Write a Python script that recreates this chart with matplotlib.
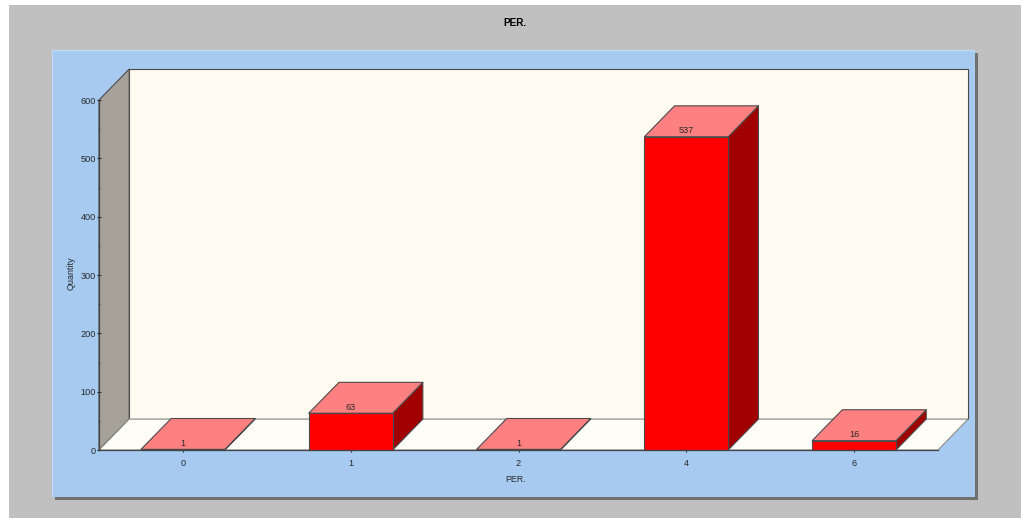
import matplotlib
matplotlib.use("Agg")
import matplotlib.pyplot as plt
from matplotlib.patches import Polygon, Rectangle

plt.rcParams['font.family'] = ['Liberation Sans', 'DejaVu Sans']

# Chart values
categories = ["0", "1", "2", "4", "6"]
quantities = [1, 63, 1, 537, 16]
y_major = [0, 100, 200, 300, 400, 500, 600]
y_minor = [50, 150, 250, 350, 450, 550]

# Colours
FRAME = "#C0C0C0"
PANEL = "#A6CAF0"
WALL_BACK = "#FFFBF0"
WALL_SIDE = "#A6A299"
FLOOR = "#FFFDF8"
BAR_FRONT = "#FF0000"
BAR_TOP = "#FF8080"
BAR_SIDE = "#A00000"
EDGE = "#4A4A4A"
TEXT = "#2A2A2A"

W, H = 1021, 518
DEPTH_X = 0.18    # extrusion in category units
DEPTH_Y = 53      # extrusion in quantity units
BAR_W = 0.5

fig = plt.figure(figsize=(W / 100, H / 100), dpi=100, facecolor="white")


def fig_rect(x0, y0, x1, y1, color, z):
    # rectangle given in pixels from the top left corner
    fig.add_artist(Rectangle((x0 / W, 1 - y1 / H), (x1 - x0) / W, (y1 - y0) / H,
                             transform=fig.transFigure, facecolor=color,
                             edgecolor="none", zorder=z))


# Window frame and blue panel with its drop shadow
fig_rect(9, 5, W, H, FRAME, -5)
fig_rect(55, 53, 978, 500, "#707070", -4)
fig_rect(52, 50, 975, 497, PANEL, -3)
fig_rect(52, 50, 975, 51, "#C4DCF5", -2)
fig_rect(52, 50, 53, 497, "#C4DCF5", -2)

fig.text(514.5 / W, 1 - 23 / H, "PER.", ha="center", va="center", fontsize=7.2,
         fontweight="bold", color="#000000")

ax = fig.add_axes([99 / W, 1 - 450 / H, 839 / W, 350 / H])
ax.patch.set_visible(False)
ax.set_xlim(0, len(categories))
ax.set_ylim(0, 600)


def poly(points, face, edge=EDGE, lw=0.8, z=2):
    ax.add_patch(Polygon(points, closed=True, facecolor=face, edgecolor=edge,
                         linewidth=lw, clip_on=False, zorder=z, joinstyle="round"))


# Walls and floor of the 3D box
n = len(categories)
poly([(DEPTH_X, DEPTH_Y), (n + DEPTH_X, DEPTH_Y), (n + DEPTH_X, 600 + DEPTH_Y),
      (DEPTH_X, 600 + DEPTH_Y)], WALL_BACK, z=1)
poly([(0, 0), (DEPTH_X, DEPTH_Y), (DEPTH_X, 600 + DEPTH_Y), (0, 600)], WALL_SIDE, z=1)
poly([(0, 0), (n, 0), (n + DEPTH_X, DEPTH_Y), (DEPTH_X, DEPTH_Y)], FLOOR,
     edge="#8A8A8A", z=1.5)

# Extruded bars
for i, value in enumerate(quantities):
    left = i + 0.5 - BAR_W / 2
    right = left + BAR_W
    poly([(right, 0), (right + DEPTH_X, DEPTH_Y), (right + DEPTH_X, value + DEPTH_Y),
          (right, value)], BAR_SIDE, z=3)
    poly([(left, value), (right, value), (right + DEPTH_X, value + DEPTH_Y),
          (left + DEPTH_X, value + DEPTH_Y)], BAR_TOP, z=3)
    poly([(left, 0), (right, 0), (right, value), (left, value)], BAR_FRONT, z=4)
    ax.annotate(str(value), (i + 0.5, value), xytext=(0, 1.2), textcoords="offset points",
                ha="center", va="bottom", fontsize=6.6, color=TEXT, zorder=5,
                annotation_clip=False)

# Axes, ticks and labels
for side in ("top", "right"):
    ax.spines[side].set_visible(False)
for side in ("left", "bottom"):
    ax.spines[side].set_linewidth(0.9)
    ax.spines[side].set_color("#444444")
    ax.spines[side].set_zorder(6)

ax.set_yticks(y_major)
ax.set_yticks(y_minor, minor=True)
ax.set_xticks([i + 0.5 for i in range(n)])
ax.set_xticklabels(categories)
ax.tick_params(axis="both", which="major", direction="inout", length=3.2, width=0.8,
               labelsize=6.6, colors="#222222", labelcolor=TEXT, pad=0.6, zorder=7)
ax.tick_params(axis="y", which="minor", direction="inout", length=1.8, width=0.7,
               colors="#444444")
ax.tick_params(axis="x", pad=5)

fig.text(71 / W, 1 - 273.5 / H, "Quantity", rotation=90, ha="center", va="center",
         fontsize=6.5, color=TEXT)
fig.text(516 / W, 1 - 479 / H, "PER.", ha="center", va="center", fontsize=6.4, color=TEXT)

fig.savefig("out.png", dpi=100, facecolor=fig.get_facecolor())
